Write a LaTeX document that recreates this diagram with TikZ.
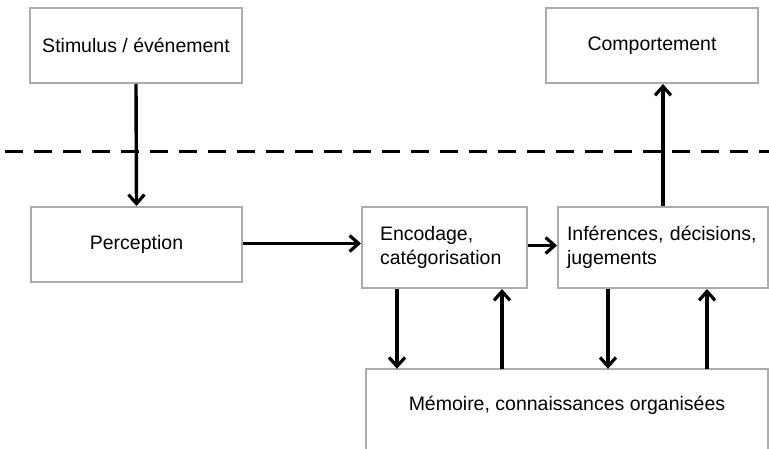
\documentclass[tikz,border=0pt]{standalone}
\usepackage{fontspec}
\setmainfont{Liberation Sans}
\usepackage{tikz}
\usetikzlibrary{arrows.meta,positioning,calc}

\begin{document}
\begin{tikzpicture}[x=1pt,y=-1pt,font=\fontsize{19.5}{24}\selectfont,
    box/.style={draw=gray!65, line width=2pt, inner sep=0pt, minimum height=75pt},
    twoline/.style={box, minimum height=81pt, align=left, inner ysep=0pt},
    flow/.style={line width=3.4pt, -{Straight Barb[length=9pt,width=16pt,line width=3.2pt]}},
    sepline/.style={line width=3pt, dash pattern=on 18pt off 11pt, dash phase=24pt}]
  \clip (0,0) rectangle (769,449);
  % level above the line
  \node[box, minimum width=212pt] (stim) at (136,45.5) {Stimulus / événement};
  \node[box, minimum width=212pt] (comp) at (652,45.5) {Comportement};
  \draw[sepline] (0,152) -- (769,152);
  % processing
  \node[box, minimum width=211pt] (perc) at (136.5,244.5) {Perception};
  \node[twoline, minimum width=165pt, text width=129pt, inner xsep=18pt] (enc) at (444.5,247.5) {Encodage,\\catégorisation};
  \node[twoline, minimum width=210pt, text width=192pt, inner xsep=9pt] (inf) at (663,247.5) {Inférences, décisions,\\jugements};
  \node[minimum width=402pt, minimum height=72pt, inner sep=0pt] (mem) at (567,405) {Mémoire, connaissances organisées};
  \draw[box] (mem.north west) ++(0,90) |- (mem.north east) -- ++(0,90);
  % arrows
  \draw[flow] (stim.south) -- (perc.north);
  \path (perc.east) ++(0,-1) coordinate (p1);
  \draw[flow] (p1) -- (p1 -| enc.west);
  \path (enc.east) ++(0,-2) coordinate (p2);
  \draw[flow] (p2) -- (p2 -| inf.west);
  \path (663,0) coordinate (up);
  \draw[flow] (inf.north -| up) -- (comp.south -| up);
  \foreach \xa/\a/\b in {397/enc.south/mem.north, 502/mem.north/enc.south, 608/inf.south/mem.north, 707/mem.north/inf.south} {
    \path (\xa,0) coordinate (t);
    \draw[flow] (\a -| t) -- (\b -| t);
  }
\end{tikzpicture}
\end{document}
